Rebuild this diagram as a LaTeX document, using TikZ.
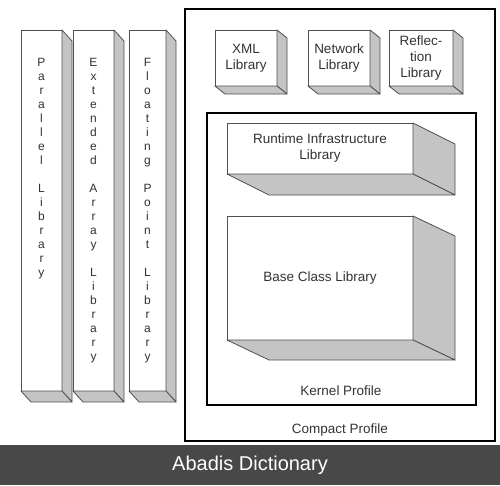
\documentclass[tikz,border=0pt]{standalone}
\usepackage{fontspec}
\setmainfont{Liberation Sans}
\usetikzlibrary{calc}
\definecolor{edge}{HTML}{505050}
\definecolor{sidegray}{HTML}{C4C4C4}
\definecolor{txt}{HTML}{333333}
\definecolor{bar}{HTML}{484848}
\tikzset{
  cubeface/.style={draw=edge, fill=white, line width=0.8pt, inner sep=0pt, outer sep=0pt, align=center, text=txt, font=\fontsize{13.5}{16}\selectfont},
  cubeside/.style={draw=edge, fill=sidegray, line width=0.8pt, line join=round},
  profilebox/.style={draw=black, line width=1.8pt, inner sep=0pt, outer sep=0pt},
  lbl/.style={text=txt, font=\fontsize{13.5}{16}\selectfont, inner sep=0pt},
  vtext/.style={text=txt, font=\fontsize{12}{14}\selectfont, align=center, inner sep=0pt, anchor=north}
}
\newcommand\cubebox[8]{%
  \pgfmathsetmacro\cubew{#4-#2}\pgfmathsetmacro\cubeh{#5-#3}%
  \node[cubeface, minimum width=\cubew pt, minimum height=\cubeh pt, anchor=north west] (#1) at (#2,#3) {#8};
  \draw[cubeside] (#1.north east) -- ++(#6,#7) -- ($(#1.south east)+(#6,#7)$) -- (#1.south east) -- cycle;
  \draw[cubeside] (#1.south west) -- ++(#6,#7) -- ($(#1.south east)+(#6,#7)$) -- (#1.south east) -- cycle;
}
\begin{document}
\begin{tikzpicture}[x=1pt,y=-1pt]
\useasboundingbox (0,0) rectangle (500,485);
% bottom bar
\fill[bar] (0,445) rectangle (500,485);
\node[text=white, font=\fontsize{20}{23}\selectfont, inner sep=0pt] (credit) at (250,465) {Abadis Dictionary};
% compact profile
\node[profilebox, minimum width=310pt, minimum height=432pt, anchor=north west] (compact) at (185,9) {};
\node[lbl] (compactlbl) at (340,430) {Compact Profile};
% kernel profile
\node[profilebox, minimum width=269pt, minimum height=292pt, anchor=north west] (kernel) at (207,113) {};
\node[lbl] (kernellbl) at (341,391) {Kernel Profile};
% columns
\cubebox{parallel}{21}{30}{62}{391}{10}{11}{}
\cubebox{extended}{73}{30}{114}{391}{10}{11}{}
\cubebox{floating}{129}{30}{166}{391}{10}{11}{}
\node[vtext] (partext) at (41.5,58) {P\\a\\r\\a\\l\\l\\e\\l\\~\\L\\i\\b\\r\\a\\r\\y};
\node[vtext] (exttext) at (93.5,58) {E\\x\\t\\e\\n\\d\\e\\d\\~\\A\\r\\r\\a\\y\\~\\L\\i\\b\\r\\a\\r\\y};
\node[vtext] (flotext) at (147.5,58) {F\\l\\o\\a\\t\\i\\n\\g\\~\\P\\o\\i\\n\\t\\~\\L\\i\\b\\r\\a\\r\\y};
% top libraries
\cubebox{xml}{215}{30}{277}{86}{10}{8}{XML\\Library}
\cubebox{network}{308}{30}{370}{86}{10}{8}{Network\\Library}
\cubebox{reflection}{389}{30}{453}{86}{10}{8}{Reflec-\\tion\\Library}
% kernel libraries
\cubebox{runtime}{227}{123}{413}{174}{42}{21}{Runtime Infrastructure\\Library}
\cubebox{baseclass}{227}{216}{413}{340}{42}{20}{Base Class Library}
\end{tikzpicture}
\end{document}
